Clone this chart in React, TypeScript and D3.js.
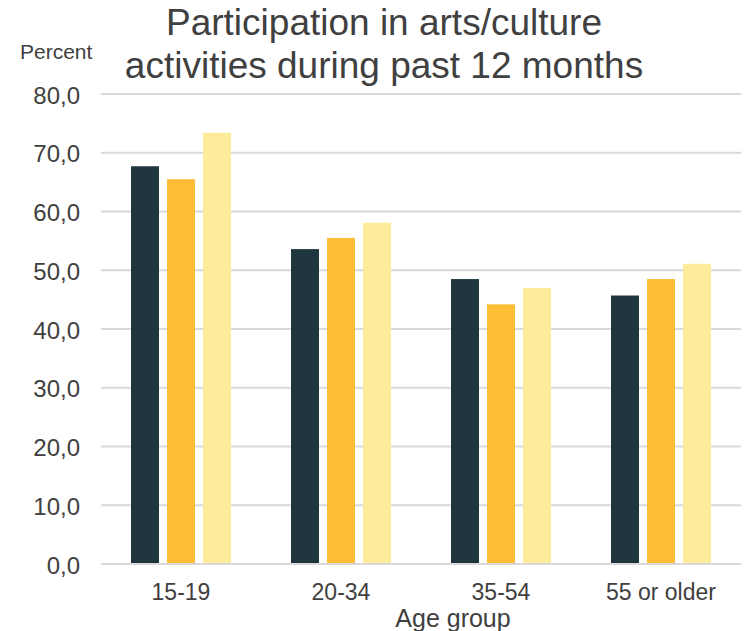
import React from "react";
import * as d3 from "d3";

const categories = ["15-19", "20-34", "35-54", "55 or older"];
const series1 = [67.7, 53.6, 48.5, 45.7];
const series2 = [65.5, 55.5, 44.2, 48.5];
const series3 = [73.4, 58.1, 47.0, 51.1];
const seriesKeys = ["s1", "s2", "s3"];
const seriesValues = [series1, series2, series3];
const seriesColors = ["#1F363F", "#FDBE35", "#FEEC9D"];
const yTicks = [0, 10, 20, 30, 40, 50, 60, 70, 80];
const titleLines = ["Participation in arts/culture", "activities during past 12 months"];

const W = 745;
const H = 631;
const FONT = "'Liberation Sans', Arial, Helvetica, sans-serif";
const TEXT = "#404040";

export default function App() {
  const x = d3.scaleBand<string>().domain(categories).range([101, 741]).paddingInner(0).paddingOuter(0);
  const xInner = d3
    .scaleBand<string>()
    .domain(seriesKeys)
    .range([30, 130])
    .paddingInner(8 / 36)
    .paddingOuter(0);
  const y = d3.scaleLinear().domain([0, 80]).range([564, 94]);
  const fmt = (v: number) => v.toFixed(1).replace(".", ",");

  return (
    <svg
      width={W}
      height={H}
      style={{ position: "absolute", left: 0, top: 0, background: "#fff" }}
      fontFamily={FONT}
    >
      {/* title */}
      {titleLines.map((t, i) => (
        <text key={t} x={384} y={35 + i * 43} textAnchor="middle" fontSize={37} fill={TEXT}>
          {t}
        </text>
      ))}
      <text x={20} y={59} fontSize={21} fill={TEXT}>
        Percent
      </text>

      {/* gridlines and y labels */}
      {yTicks.map((t) => (
        <g key={t}>
          <line x1={101} x2={741} y1={y(t)} y2={y(t)} stroke="#D9D9D9" strokeWidth={2} />
          <text
            x={80}
            y={y(t) + 1}
            textAnchor="end"
            dominantBaseline="central"
            fontSize={24}
            fill={TEXT}
          >
            {fmt(t)}
          </text>
        </g>
      ))}

      {/* bars */}
      {categories.map((c, ci) => (
        <g key={c}>
          {seriesKeys.map((k, si) => {
            const v = seriesValues[si][ci];
            const bx = (x(c) ?? 0) + (xInner(k) ?? 0);
            return (
              <rect
                key={k}
                x={bx}
                y={y(v)}
                width={xInner.bandwidth()}
                height={y(0) - y(v)}
                fill={seriesColors[si]}
              />
            );
          })}
        </g>
      ))}
      <line x1={101} x2={741} y1={y(0)} y2={y(0)} stroke="#D9D9D9" strokeWidth={2} />

      {/* x labels */}
      {categories.map((c) => (
        <text
          key={c}
          x={(x(c) ?? 0) + x.bandwidth() / 2}
          y={600}
          textAnchor="middle"
          fontSize={23}
          fill={TEXT}
        >
          {c}
        </text>
      ))}
      <text x={453} y={627} textAnchor="middle" fontSize={25} fill={TEXT}>
        Age group
      </text>
    </svg>
  );
}
